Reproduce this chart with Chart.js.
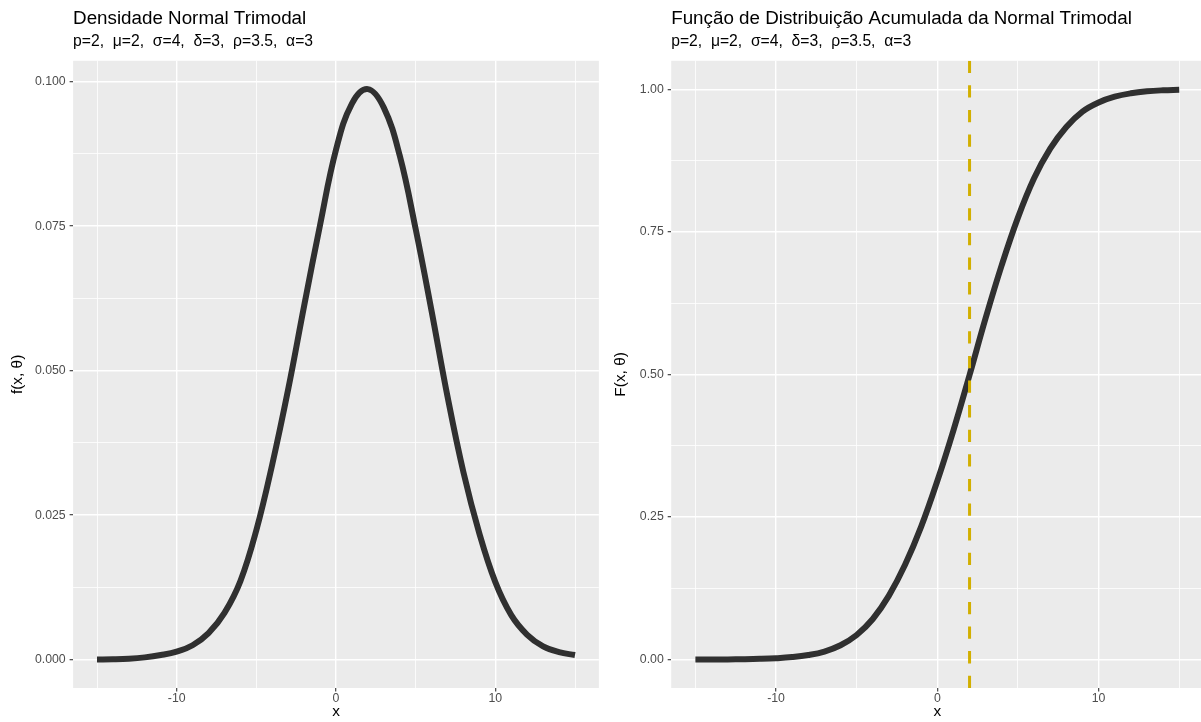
<!DOCTYPE html>
<html>
<head>
<meta charset="utf-8">
<script src="https://cdn.jsdelivr.net/npm/chart.js@4.4.1/dist/chart.umd.min.js"></script>
<style>
  html, body { margin: 0; padding: 0; background: #ffffff; overflow: hidden; width: 1201px; height: 722px; }
  #c1 { position: absolute; left: 0px; top: 0px; }
  #c2 { position: absolute; left: 600px; top: 0px; }
</style>
</head>
<body>
<canvas id="c1" width="600" height="722"></canvas>
<canvas id="c2" width="610" height="722"></canvas>
<script>
// ---------------- DATA ----------------
const xValues = [-15, -14, -13, -12, -11, -10, -9, -8, -7, -6, -5, -4, -3, -2, -1, 0,
                 1, 2, 3, 4, 5, 6, 7, 8, 9, 10, 11, 12, 13, 14, 15];
const densityValues = [0.00003, 0.00007, 0.00017, 0.0004, 0.0008, 0.0014, 0.0025, 0.0046, 0.0081, 0.0136, 0.0224,
                       0.0338, 0.0468, 0.0612, 0.0752, 0.0882, 0.0962, 0.0987, 0.0955, 0.0872, 0.0745,
                       0.0603, 0.0455, 0.0324, 0.0218, 0.0134, 0.0077, 0.0043, 0.0023, 0.0013, 0.0008];
const cdfValues = [0.0000, 0.0001, 0.0002, 0.0005, 0.0011, 0.0022, 0.0042, 0.0078, 0.0140, 0.0250, 0.0430,
                   0.0710, 0.1120, 0.1660, 0.2330, 0.3130, 0.4020, 0.4990, 0.5990, 0.6920, 0.7750,
                   0.8440, 0.8960, 0.9340, 0.9610, 0.9770, 0.9870, 0.9930, 0.9965, 0.9983, 0.9992];
const medianX = 2;

const xMajorTicks = [-10, 0, 10];
const xMajorLabels = ['-10', '0', '10'];
const xMinorTicks = [-15, -5, 5, 15];

const densYMajor = [0, 0.025, 0.05, 0.075, 0.1];
const densYLabels = ['0.000', '0.025', '0.050', '0.075', '0.100'];
const densYMinor = [0.0125, 0.0375, 0.0625, 0.0875];

const cdfYMajor = [0, 0.25, 0.5, 0.75, 1];
const cdfYLabels = ['0.00', '0.25', '0.50', '0.75', '1.00'];
const cdfYMinor = [0.125, 0.375, 0.625, 0.875];

const titleLeft = 'Densidade Normal Trimodal';
const titleRight = 'Função de Distribuição Acumulada da Normal Trimodal';
const subtitleText = 'p=2,  \u03bc=2,  \u03c3=4,  \u03b4=3,  \u03c1=3.5,  \u03b1=3';
const yTitleLeft = 'f(x, \u03b8)';
const yTitleRight = 'F(x, \u03b8)';
const xTitle = 'x';

// ---------------- HELPERS ----------------
const FONT = '"Liberation Sans", Arial, Helvetica, sans-serif';
const near = (a, b) => Math.abs(a - b) < 1e-9;
const isIn = (v, arr) => arr.some(t => near(t, v));
const labelOf = (v, vals, labels) => { const i = vals.findIndex(t => near(t, v)); return i >= 0 ? labels[i] : ''; };

const panelBg = {
  id: 'panelBg',
  beforeDraw(chart) {
    const {ctx, chartArea: a} = chart;
    ctx.save();
    ctx.fillStyle = '#EBEBEB';
    ctx.fillRect(a.left, a.top, a.right - a.left, a.bottom - a.top);
    ctx.restore();
  }
};

function makeAxis(opts) {
  const {major, minor, labels, min, max, position, width, height, title, titlePad, labelPad} = opts;
  return {
    type: 'linear',
    position: position,
    min: min,
    max: max,
    afterBuildTicks(scale) {
      scale.ticks = major.concat(minor).sort((a, b) => a - b).map(v => ({value: v}));
    },
    afterFit(scale) {
      if (width !== undefined) scale.width = width;
      if (height !== undefined) scale.height = height;
    },
    border: { display: false },
    grid: {
      drawOnChartArea: true,
      drawTicks: true,
      tickLength: 3.5,
      tickWidth: 1.1,
      color: '#FFFFFF',
      lineWidth: (c) => (c.tick && isIn(c.tick.value, major)) ? 1.4 : 0.8,
      tickColor: (c) => (c.tick && isIn(c.tick.value, major)) ? '#333333' : 'rgba(0,0,0,0)'
    },
    ticks: {
      autoSkip: false,
      maxRotation: 0,
      minRotation: 0,
      padding: labelPad,
      color: '#4D4D4D',
      font: { family: FONT, size: 12.3 },
      callback: (v) => labelOf(v, major, labels)
    },
    title: {
      display: true,
      text: title,
      color: '#000000',
      font: { family: FONT, size: 15.4 },
      padding: titlePad
    }
  };
}

function buildChart(canvasId, cfg) {
  const datasets = [];
  if (cfg.vline !== undefined) {
    datasets.push({
      data: [{x: cfg.vline, y: cfg.yMin}, {x: cfg.vline, y: cfg.yMax}],
      borderColor: '#D2AF00',
      borderWidth: 3,
      borderDash: [12.3, 12.3],
      borderCapStyle: 'butt',
      pointRadius: 0,
      fill: false,
      tension: 0
    });
  }
  datasets.push({
    data: xValues.map((x, i) => ({x: x, y: cfg.values[i]})),
    borderColor: '#303030',
    borderWidth: 6,
    borderCapStyle: 'butt',
    borderJoinStyle: 'round',
    pointRadius: 0,
    fill: false,
    tension: 0.4
  });

  return new Chart(document.getElementById(canvasId), {
    type: 'line',
    data: { datasets: datasets },
    options: {
      responsive: false,
      animation: false,
      devicePixelRatio: 1,
      layout: { padding: { left: 0, top: 0, right: cfg.padRight, bottom: 0 } },
      plugins: {
        legend: { display: false },
        tooltip: { enabled: false },
        title: {
          display: true,
          text: cfg.title,
          align: 'start',
          fullSize: false,
          color: '#000000',
          font: { family: FONT, size: 18.8, weight: 'normal' },
          padding: { top: 7.4, bottom: 2.4 }
        },
        subtitle: {
          display: true,
          text: subtitleText,
          align: 'start',
          fullSize: false,
          color: '#000000',
          font: { family: FONT, size: 15.7, weight: 'normal' },
          padding: { top: 0, bottom: 9.6 }
        }
      },
      scales: {
        x: makeAxis({
          major: xMajorTicks, minor: xMinorTicks, labels: xMajorLabels,
          min: -16.5, max: 16.5, position: 'bottom', height: 34,
          title: xTitle, titlePad: { top: 0, bottom: 1.2 }, labelPad: 0
        }),
        y: makeAxis({
          major: cfg.yMajor, minor: cfg.yMinor, labels: cfg.yLabels,
          min: cfg.yMin, max: cfg.yMax, position: 'left', width: cfg.yWidth,
          title: cfg.yTitle, titlePad: { top: cfg.yTitlePad, bottom: 0 }, labelPad: 3.9
        })
      }
    },
    plugins: [panelBg]
  });
}

buildChart('c1', {
  title: titleLeft,
  values: densityValues,
  yMajor: densYMajor, yMinor: densYMinor, yLabels: densYLabels,
  yMin: -0.0049, yMax: 0.1036,
  yWidth: 73.1, padRight: 1.1,
  yTitle: yTitleLeft, yTitlePad: 8.3
});

buildChart('c2', {
  title: titleRight,
  values: cdfValues,
  yMajor: cdfYMajor, yMinor: cdfYMinor, yLabels: cdfYLabels,
  yMin: -0.05, yMax: 1.05,
  yWidth: 71.2, padRight: 6.6,
  yTitle: yTitleRight, yTitlePad: 12,
  vline: medianX
});
</script>
</body>
</html>
